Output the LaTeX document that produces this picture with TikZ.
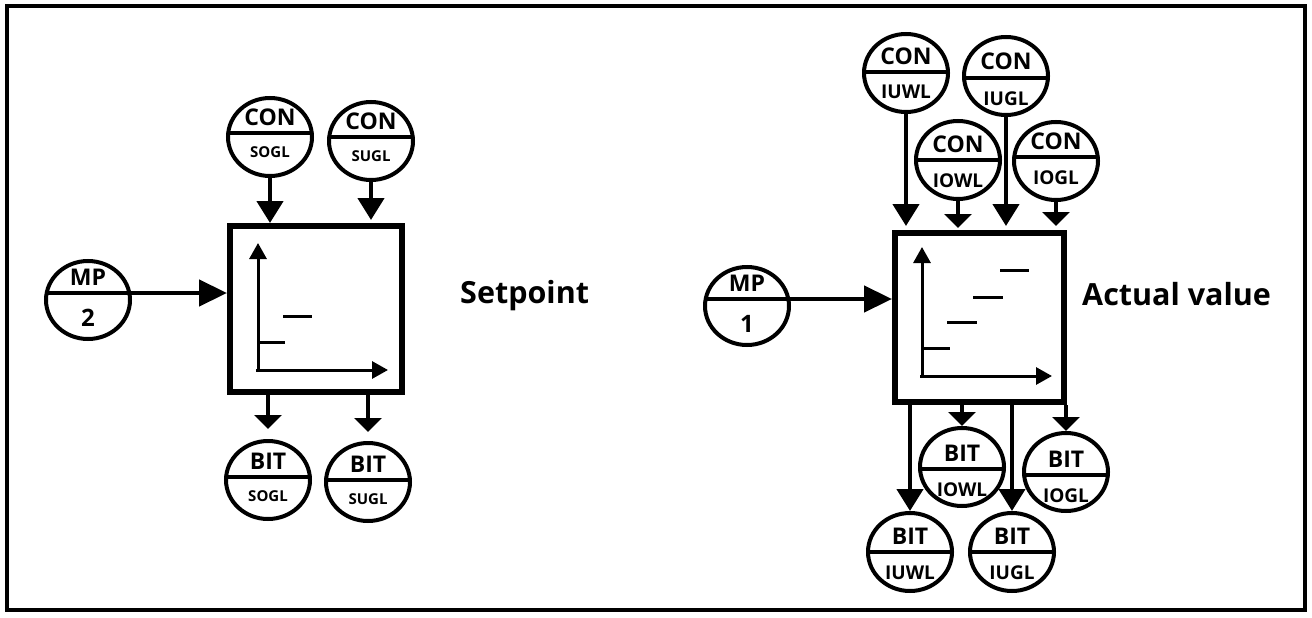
\documentclass[tikz,border=0pt]{standalone}
\usepackage{fontspec}
\setmainfont{Open Sans}
\usetikzlibrary{arrows.meta,calc,shapes.geometric}
\tikzset{
  gnode/.style={ellipse,draw,line width=4pt,minimum width=84pt,minimum height=78pt,inner sep=0pt},
  divline/.style={line width=4pt},
  toplbl/.style={font=\fontsize{23}{25}\selectfont\bfseries,inner sep=0pt,anchor=base},
  smalllbl/.style={font=\fontsize{15}{17}\selectfont\bfseries,inner sep=0pt,anchor=base},
  midlbl/.style={font=\fontsize{19}{21}\selectfont\bfseries,inner sep=0pt,anchor=base},
  numlbl/.style={font=\fontsize{24}{26}\selectfont\bfseries,inner sep=0pt,anchor=base},
  bigtxt/.style={font=\fontsize{30.5}{34}\selectfont\bfseries,inner sep=0pt,anchor=base west},
  blockbox/.style={draw,line width=6pt,inner sep=0pt},
  arrbig/.style={line width=4.5pt,-{Triangle[length=22pt,width=26pt]}},
  arrflat/.style={line width=4.5pt,-{Triangle[length=14pt,width=27pt]}},
  arrmp/.style={line width=4.5pt,-{Triangle[length=28pt,width=26pt]}},
  axisline/.style={line width=3pt,-{Triangle[length=16pt,width=17pt]}},
  stepline/.style={line width=3pt},
  frameline/.style={line width=4pt},
}
% name, cx, cy, d (px above centre), top text, bottom text, bottom style, bottom offset
\newcommand\gauge[8]{%
  \node[gnode] (#1) at (#2,#3) {};
  \pgfmathsetmacro\hw{42*sqrt(1-((#4)/39)^2)}%
  \coordinate (#1-dl) at ($(#1.center)+(-\hw,{-(#4)})$);
  \coordinate (#1-dr) at ($(#1.center)+(\hw,{-(#4)})$);
  \draw[divline] (#1-dl) -- (#1-dr);
  \node[toplbl] (#1-t) at ($(#1.center)+(0,{-(#4)-8})$) {#5};
  \node[#7] (#1-b) at ($(#1.center)+(0,{-(#4)+#8})$) {#6};
}
\begin{document}
\begin{tikzpicture}[x=1pt,y=-1pt]
\useasboundingbox (0,0) rectangle (1312,618);
\draw[frameline] (7,6) rectangle (1305,610);

% ---------- left block ----------
\node[blockbox,minimum width=172pt,minimum height=166pt] (boxL) at (316,309) {};
\draw[axisline] (258,372) -- (258,243);
\draw[axisline] (256,370) -- (388,370);
\draw[stepline] (258,342) -- (285,342);
\draw[stepline] (283,316) -- (312,316);

\gauge{mptwo}{88}{300}{7}{MP}{2}{numlbl}{33}
\gauge{consogl}{270}{137}{4}{CON}{SOGL}{smalllbl}{24}
\gauge{consugl}{371}{141}{4}{CON}{SUGL}{smalllbl}{24}
\gauge{bitsogl}{268}{480}{3}{BIT}{SOGL}{smalllbl}{24}
\gauge{bitsugl}{368}{482}{2}{BIT}{SUGL}{smalllbl}{24}

\draw[arrmp] (mptwo-dr) -- (mptwo-dr -| boxL.west);
\draw[arrbig] (consogl.south) -- (consogl.south |- boxL.north);
\draw[arrbig,shorten >=3pt] (consugl.south) -- (consugl.south |- boxL.north);
\draw[arrflat,shorten >=10pt] (bitsogl.north |- boxL.south) -- (bitsogl.north);
\draw[arrflat,shorten >=9pt] (bitsugl.north |- boxL.south) -- (bitsugl.north);

\node[bigtxt] (setpt) at (460,303) {Setpoint};

% ---------- right block ----------
\node[blockbox,minimum width=169pt,minimum height=169pt] (boxR) at (979.5,317.5) {};
\draw[axisline] (922,378) -- (922,247);
\draw[axisline] (920,376) -- (1052,376);
\draw[stepline] (922,348) -- (950,348);
\draw[stepline] (947,322) -- (977,322);
\draw[stepline] (973,297) -- (1003,297);
\draw[stepline] (1000,270) -- (1029,270);

\gauge{mpone}{747}{306}{7}{MP}{1}{numlbl}{33}
\gauge{coniuwl}{906}{73}{1}{CON}{IUWL}{midlbl}{27}
\gauge{coniugl}{1006}{76}{-2}{CON}{IUGL}{midlbl}{27}
\gauge{coniowl}{958}{160}{0}{CON}{IOWL}{midlbl}{27}
\gauge{coniogl}{1056}{161}{4}{CON}{IOGL}{midlbl}{27}
\gauge{bitiowl}{962}{467}{-2}{BIT}{IOWL}{midlbl}{27}
\gauge{bitiogl}{1066}{472}{-3}{BIT}{IOGL}{midlbl}{27}
\gauge{bitiuwl}{910}{552}{0}{BIT}{IUWL}{midlbl}{27}
\gauge{bitiugl}{1012}{552}{0}{BIT}{IUGL}{midlbl}{27}

\draw[arrmp] (mpone-dr) -- (mpone-dr -| boxR.west);
\draw[arrbig,shorten >=4pt] (coniuwl.south) -- (coniuwl.south |- boxR.north);
\draw[arrflat,shorten >=2pt] (coniowl.south) -- (coniowl.south |- boxR.north);
\draw[arrbig,shorten >=4pt] (coniugl.south) -- (coniugl.south |- boxR.north);
\draw[arrflat,shorten >=4pt] (coniogl.south) -- (coniogl.south |- boxR.north);
\draw[arrbig] (bitiuwl.north |- boxR.south) -- (bitiuwl.north);
\draw[arrflat] (bitiowl.north |- boxR.south) -- (bitiowl.north);
\draw[arrbig] (bitiugl.north |- boxR.south) -- (bitiugl.north);
\draw[arrflat] (bitiogl.north |- boxR.south) -- (bitiogl.north);

\node[bigtxt] (actval) at (1082,305) {Actual value};
\end{tikzpicture}
\end{document}
